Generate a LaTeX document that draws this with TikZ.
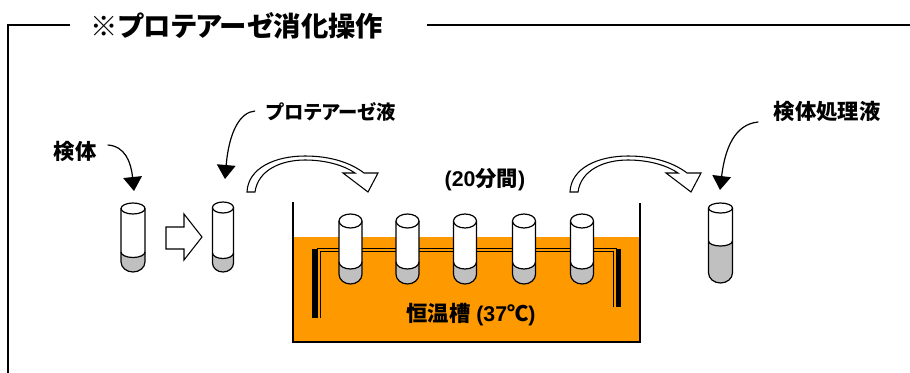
\documentclass[tikz,border=0pt]{standalone}
\usepackage{fontspec}
\setmainfont{Liberation Sans}
\newfontfamily\jp{Noto Sans CJK JP}[RawFeature=+palt]
\usetikzlibrary{arrows.meta,calc}
\definecolor{bathorange}{HTML}{FF9900}
\definecolor{samplegray}{HTML}{C0C0C0}

% test tube: #1 name, #2 centre x, #3 half width, #4 rim y-radius,
% #5 rim centre y, #6 bottom y, #7 liquid level
\newcommand\drawtube[7]{%
  \fill[white] ({#2-#3},#5) -- ({#2-#3},{#6-0.85*#3})
     arc[start angle=180,end angle=0,x radius=#3,y radius={0.85*#3}]
     -- ({#2+#3},#5) -- cycle;
  \fill[samplegray] ({#2-#3},#7) -- ({#2-#3},{#6-0.85*#3})
     arc[start angle=180,end angle=0,x radius=#3,y radius={0.85*#3}]
     -- ({#2+#3},#7)
     arc[start angle=0,end angle=180,x radius=#3,y radius=#4] -- cycle;
  \draw[tubeline] ({#2+#3},#7) arc[start angle=0,end angle=180,x radius=#3,y radius=#4];
  \draw[tubeline] ({#2-#3},#5) -- ({#2-#3},{#6-0.85*#3})
     arc[start angle=180,end angle=0,x radius=#3,y radius={0.85*#3}]
     -- ({#2+#3},#5);
  \draw[tubeline,fill=white] (#2,#5) ellipse[x radius=#3,y radius=#4];
  \coordinate (#1) at (#2,{#5-#4});
}

% hollow curved transfer arrow, drawn from its base
\newcommand\curvedarrow[1]{%
  \begin{scope}[shift={(#1,0)}]
  \draw[hollow] (0,192) .. controls (1,168) and (28,156) .. (58,156)
     .. controls (84,156) and (104,163) .. (117,173)
     -- (131,173) -- (121,192) -- (96,173) -- (108,173)
     .. controls (98,166) and (80,160) .. (58,160)
     .. controls (34,160) and (11,170) .. (8,192) -- cycle;
  \end{scope}
}

\begin{document}
\begin{tikzpicture}[x=0.75pt,y=-0.75pt,
  frame/.style={line width=1.1pt},
  tubeline/.style={line width=0.9pt},
  hollow/.style={draw=black,fill=white,line width=0.8pt,line join=miter},
  wall/.style={line width=0.9pt},
  pointer/.style={line width=0.9pt,-{Triangle[length=10.5pt,width=14pt]}},
  jplabel/.style={font=\jp\bfseries\fontsize{16pt}{18pt}\selectfont,inner sep=0pt},
  title/.style={font=\jp\bfseries\fontsize{20.5pt}{24pt}\selectfont,inner sep=0pt},
  latin/.style={font=\bfseries\fontsize{16pt}{18pt}\selectfont,inner sep=0pt}]
\useasboundingbox (0,0) rectangle (910,372);

% outer frame with heading
\node[title] (title) at (237,26) {※プロテアーゼ消化操作};
\draw[frame] (8,373) -- (8,25) -- (70,25);
\draw[frame] (427,25) -- (910,25);

% water bath
\fill[bathorange] (293,237) rectangle (641,343);
\draw[wall] (293,202) -- (293,342) -- (640,342) -- (640,203);

% tube rack
\fill (312,249) rectangle (318,318);
\fill (616,249) rectangle (621,307);
\draw[line width=0.7pt] (317,248) -- (617,248);
\draw[line width=0.7pt] (320,318) -- (320,251) -- (613,251) -- (613,307);

% tubes in the bath
\drawtube{b1}{350.5}{11.5}{7}{221}{284}{262}
\drawtube{b2}{407.5}{11.5}{7}{221}{284}{262}
\drawtube{b3}{465}{11.5}{7}{221}{284}{262}
\drawtube{b4}{524}{11.5}{7}{221}{284}{262}
\drawtube{b5}{582}{11.5}{7}{221}{284}{262}

% sample tube, tube with protease, processed sample
\drawtube{t1}{133}{12}{5.5}{208.5}{272}{252}
\drawtube{t2}{223}{10.5}{5.5}{207.5}{272}{253}
\drawtube{t3}{720.5}{12}{5}{208}{283}{241}

% hollow step arrow
\draw[hollow] (166,227) -- (184,227) -- (184,214) -- (202,237)
   -- (184,260) -- (184,249) -- (166,249) -- cycle;

% curved transfer arrows
\curvedarrow{247}
\curvedarrow{570}

% labels
\node[jplabel] (lsample) at (75,151) {検体};
\node[jplabel,font=\jp\bfseries\fontsize{14.5pt}{17pt}\selectfont] (lprotease) at (331,112) {プロテアーゼ液};
\node[jplabel] (lresult) at (827,111) {検体処理液};
\node[latin] (ltime) at (485,180) {(20{\jp 分間})};
\node[latin] (lbath) at (471,315) {{\jp 恒温槽} (37{\jp ℃})};

% pointers from labels to tubes
\coordinate (s1) at ($(lsample.east)+(11,-6)$);
\coordinate (s2) at ($(lprotease.west)+(-11,-1)$);
\coordinate (s3) at ($(lresult.west)+(-15,11)$);
\draw[pointer] (s1) .. controls (125,146) and (131,162) .. ($(t1)+(1,-12)$);
\draw[pointer] (s2) .. controls (240,112) and (229,132) .. ($(t2)+(2,-23)$);
\draw[pointer] (s3) .. controls (735,124) and (725,148) .. ($(t3)+(-0.5,-13)$);
\end{tikzpicture}
\end{document}
